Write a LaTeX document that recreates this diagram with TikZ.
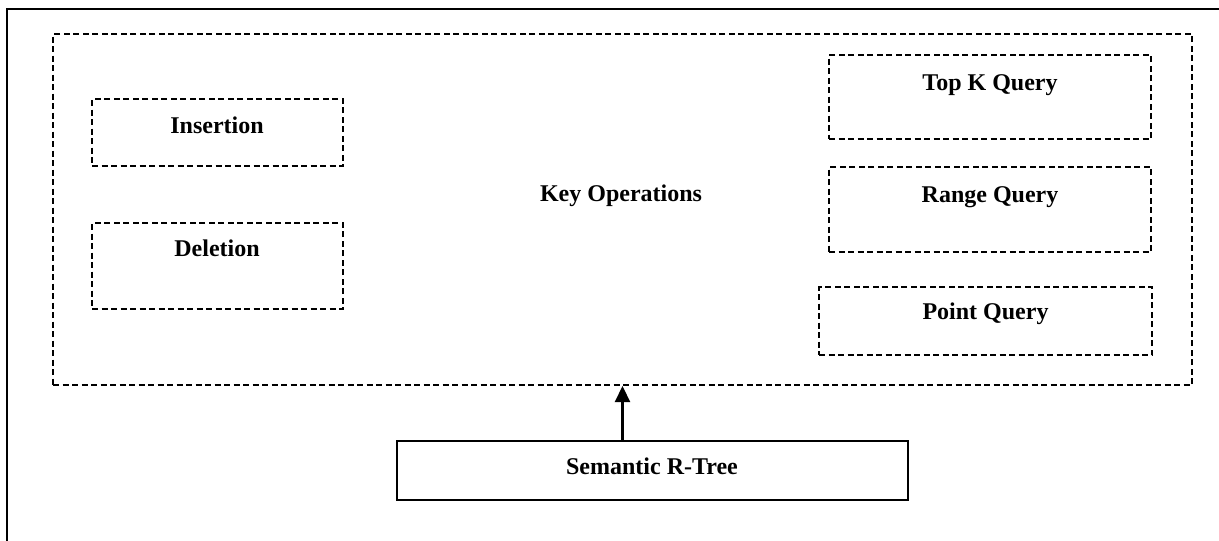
\documentclass[tikz,border=0pt]{standalone}
\usepackage{fontspec}
\setmainfont{Liberation Serif}
\usetikzlibrary{arrows.meta}
\begin{document}
\begin{tikzpicture}[x=1pt,y=-1pt,
  dashedbox/.style={draw, line width=2pt, dash pattern=on 6pt off 3.5pt, inner sep=0pt},
  solidbox/.style={draw, line width=2.2pt, inner sep=0pt},
  lbl/.style={anchor=base, inner sep=0pt, font=\fontsize{24}{28}\selectfont\bfseries},
  arrowline/.style={line width=2.2pt, -{Triangle[length=16pt,width=15pt]}}
]
\useasboundingbox (0,0) rectangle (1219,541);
% outer frame (only its top and left edges fall inside the page)
\begin{scope}
  \clip (0,0) rectangle (1219,541);
  \draw[line width=2.2pt] (7,560) -- (7,9) -- (1240,9);
\end{scope}

% key operations container
\node[dashedbox, minimum width=1139pt, minimum height=351pt] (ko) at (622.5,209.5) {};
\node[lbl] (kolbl) at (621,201) {Key Operations};

% update operations
\node[dashedbox, minimum width=251pt, minimum height=67pt] (ins) at (217.5,132.5) {};
\node[lbl] (inslbl) at (217,133) {Insertion};
\node[dashedbox, minimum width=251pt, minimum height=86pt] (del) at (217.5,266) {};
\node[lbl] (dellbl) at (217,256) {Deletion};

% query operations
\node[dashedbox, minimum width=322pt, minimum height=84pt] (topk) at (990,97) {};
\node[lbl] (topklbl) at (990,90) {Top K Query};
\node[dashedbox, minimum width=322pt, minimum height=85pt] (range) at (990,209.5) {};
\node[lbl] (rangelbl) at (990,202) {Range Query};
\node[dashedbox, minimum width=333pt, minimum height=68pt] (point) at (985.5,321) {};
\node[lbl] (pointlbl) at (985.5,319) {Point Query};

% underlying structure
\node[solidbox, minimum width=511pt, minimum height=59pt] (srt) at (652.5,470.5) {};
\node[lbl] (srtlbl) at (652,474) {Semantic R-Tree};

\draw[arrowline] (ko.south |- srt.north) -- (ko.south);
\end{tikzpicture}
\end{document}
